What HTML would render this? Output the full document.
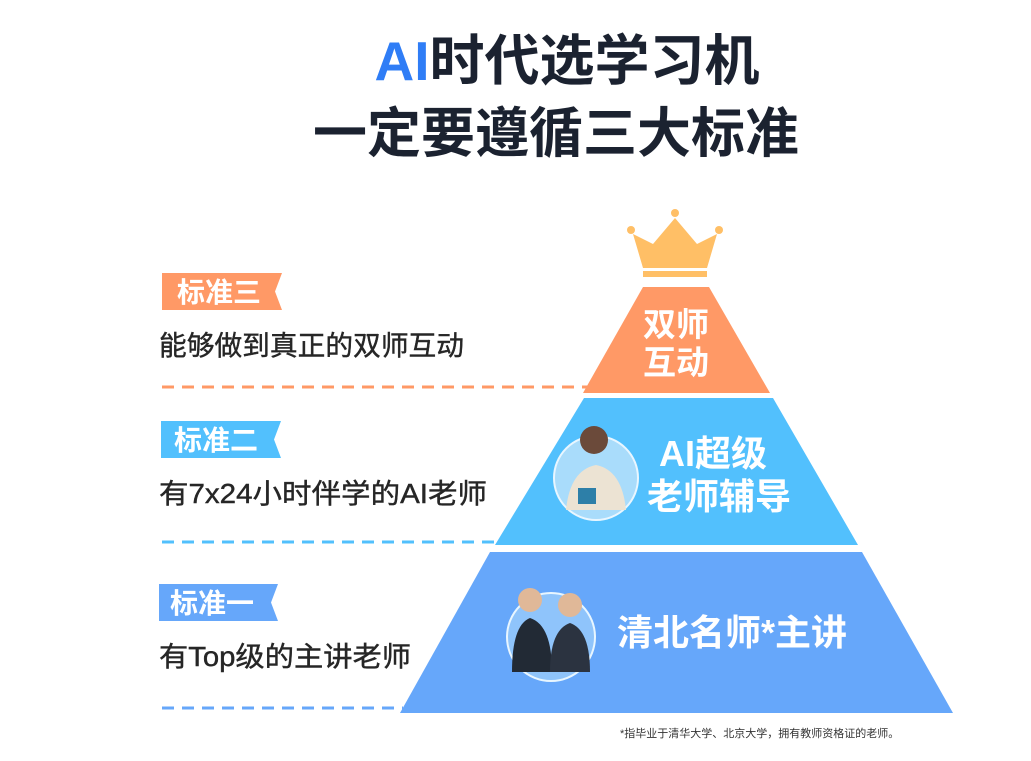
<!DOCTYPE html>
<html><head><meta charset="utf-8"><style>
html,body{margin:0;padding:0;background:#fff;}
svg{display:block;}
text{font-family:"Liberation Sans","Noto Sans CJK SC",sans-serif;}
</style></head><body>
<svg width="1031" height="761" viewBox="0 0 1031 761" xmlns="http://www.w3.org/2000/svg">
<rect width="1031" height="761" fill="#fff"/>
<!-- Title -->
<text x="567" y="80" text-anchor="middle" font-size="55" font-weight="bold" fill="#1b2230"><tspan fill="#2f7df6">AI</tspan>时代选学习机</text>
<text x="556" y="152" text-anchor="middle" font-size="54" font-weight="bold" fill="#1b2230">一定要遵循三大标准</text>

<!-- crown -->
<g fill="#ffbf66">
<circle cx="675" cy="213" r="4"/><circle cx="631" cy="230" r="4"/><circle cx="719" cy="230" r="4"/>
<polygon points="633,234 653,244 675,218 697,244 717,234 707,268 643,268"/>
<rect x="643" y="271" width="64" height="6"/>
</g>
<!-- pyramid -->
<polygon points="643,287 709,287 770,393 583,393" fill="#ff9966"/>
<polygon points="584,398 773,398 858,545 495,545" fill="#52c0fd"/>
<polygon points="490,552 862,552 953,713 400,713" fill="#66a7fa"/>

<text x="676" y="336" text-anchor="middle" font-size="33" font-weight="bold" fill="#fff">双师</text>
<text x="676" y="374" text-anchor="middle" font-size="33" font-weight="bold" fill="#fff">互动</text>
<text x="713" y="466" text-anchor="middle" font-size="36" font-weight="bold" fill="#fff">AI超级</text>
<text x="719" y="509" text-anchor="middle" font-size="36" font-weight="bold" fill="#fff">老师辅导</text>
<text x="732" y="645" text-anchor="middle" font-size="36" font-weight="bold" fill="#fff">清北名师*主讲</text>

<!-- avatars -->
<circle cx="596" cy="478" r="42" fill="#a9dcfb" stroke="#e8f6ff" stroke-width="2"/>
<circle cx="594" cy="440" r="14" fill="#6b4a3a"/>
<path d="M566,510 Q570,470 596,465 Q622,470 626,510 Z" fill="#ece3d3"/>
<rect x="578" y="488" width="18" height="16" fill="#2d7fa8"/>
<circle cx="551" cy="637" r="44" fill="#8fc4fb" stroke="#e8f6ff" stroke-width="2"/>
<circle cx="530" cy="600" r="12" fill="#e0b898"/><circle cx="570" cy="605" r="12" fill="#e0b898"/>
<path d="M512,672 Q512,625 530,618 Q552,625 552,672 Z" fill="#222a35"/>
<path d="M550,672 Q550,630 570,623 Q590,630 590,672 Z" fill="#2b3340"/>

<!-- left side -->
<polygon points="162,273 282,273 275,291.5 282,310 162,310" fill="#ff9966"/>
<text x="177" y="302" font-size="28" font-weight="bold" fill="#fff">标准三</text>
<text x="159" y="355" font-size="27.5" fill="#262626" stroke="#262626" stroke-width="0.4" textLength="305" lengthAdjust="spacingAndGlyphs">能够做到真正的双师互动</text>
<line x1="162" y1="387" x2="588" y2="387" stroke="#ff9966" stroke-width="3" stroke-dasharray="12,8"/>

<polygon points="161,421 281,421 274,439.5 281,458 161,458" fill="#52c0fd"/>
<text x="174" y="450" font-size="28" font-weight="bold" fill="#fff">标准二</text>
<text x="159" y="503" font-size="27.5" fill="#262626" stroke="#262626" stroke-width="0.4" textLength="328" lengthAdjust="spacingAndGlyphs">有7x24小时伴学的AI老师</text>
<line x1="162" y1="542" x2="500" y2="542" stroke="#52c0fd" stroke-width="3" stroke-dasharray="12,8"/>

<polygon points="159,584 278,584 271,602.5 278,621 159,621" fill="#66a7fa"/>
<text x="170" y="613" font-size="28" font-weight="bold" fill="#fff">标准一</text>
<text x="159" y="666" font-size="27.5" fill="#262626" stroke="#262626" stroke-width="0.4" textLength="252" lengthAdjust="spacingAndGlyphs">有Top级的主讲老师</text>
<line x1="162" y1="708" x2="403" y2="708" stroke="#66a7fa" stroke-width="3" stroke-dasharray="12,8"/>

<text x="620" y="737" font-size="11" fill="#333">*指毕业于清华大学、北京大学，拥有教师资格证的老师。</text>
</svg>
</body></html>
